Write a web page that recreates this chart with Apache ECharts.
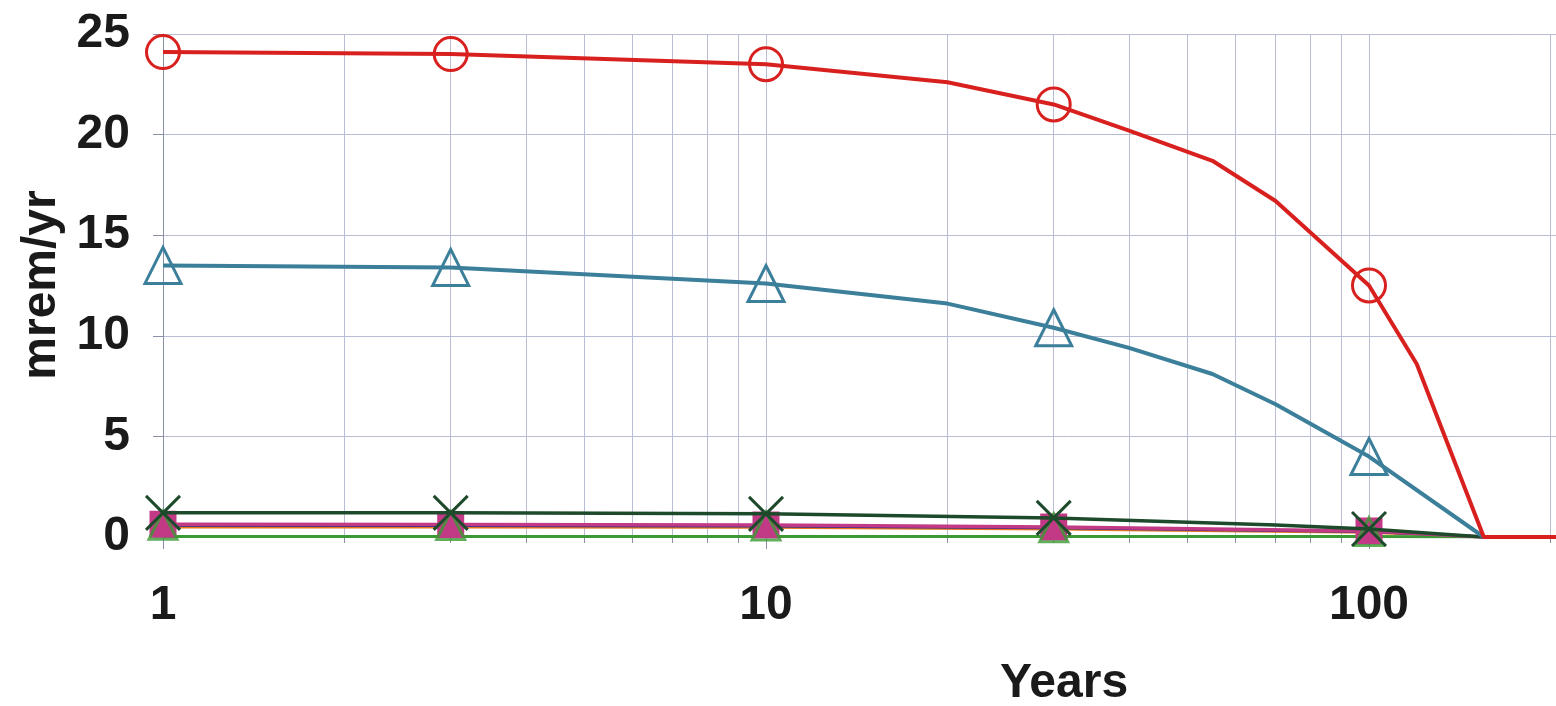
<!DOCTYPE html>
<html>
<head>
<meta charset="utf-8">
<script src="https://cdn.jsdelivr.net/npm/echarts@6/dist/echarts.min.js"></script>
<style>
html,body{margin:0;padding:0;background:#fff;overflow:hidden;}
#chart{width:1980px;height:706px;}
</style>
</head>
<body>
<div id="chart"></div>
<script>
// ---- data (years, mrem/yr) ----
const markerYears = [1, 3, 10, 30, 100];
const redYears   = [1, 3, 10, 20, 30, 40, 55, 70, 100, 120, 155, 1000];
const redValues  = [24.1, 24.0, 23.5, 22.6, 21.5, 20.2, 18.7, 16.7, 12.5, 8.6, 0, 0];
const blueYears  = [1, 3, 10, 20, 30, 40, 55, 70, 100, 155, 1000];
const blueValues = [13.5, 13.4, 12.6, 11.6, 10.4, 9.4, 8.1, 6.6, 4.0, 0, 0];
const dkGreenYears  = [1, 3, 10, 30, 70, 100, 155, 1000];
const dkGreenValues = [1.2, 1.2, 1.15, 0.95, 0.6, 0.4, 0, 0];
const magentaYears  = [1, 3, 10, 30, 100, 155, 1000];
const magentaValues = [0.63, 0.62, 0.6, 0.5, 0.3, 0, 0];
const navyYears  = [1, 3, 10, 30, 100, 155, 1000];
const navyValues = [0.58, 0.57, 0.55, 0.46, 0.27, 0, 0];
const orangeYears  = [1, 3, 10, 30, 100, 155, 1000];
const orangeValues = [0.5, 0.5, 0.48, 0.4, 0.24, 0, 0];
const ltGreenYears  = [1, 3, 10, 30, 100, 155, 1000];
const ltGreenValues = [0.03, 0.03, 0.03, 0.03, 0.02, 0, 0];
const greenTriYears  = [1, 3, 10, 30, 100];
const greenTriValues = [0.58, 0.57, 0.55, 0.46, 0.27];
const yTickLabels = ['0', '5', '10', '15', '20', '25'];
const xTickLabels = ['1', '10', '100', '1000'];
const xAxisTitle = 'Years';
const yAxisTitle = 'mrem/yr';

function pairs(xs, ys) { return xs.map((x, i) => [x, ys[i]]); }
function markSym(shape) {
  return function (value) { return markerYears.indexOf(value[0]) >= 0 ? shape : 'none'; };
}
const X_PATH = 'path://M0,0L10,10M10,0L0,10';

function lineSeries(name, xs, ys, color, shape, size, hollow, lw, z) {
  return {
    name: name, type: 'line', z: z,
    data: pairs(xs, ys),
    symbol: shape ? markSym(shape) : 'none', symbolSize: size,
    showSymbol: !!shape,
    lineStyle: { color: color, width: lw },
    itemStyle: { color: hollow ? 'rgba(0,0,0,0)' : color, borderColor: color, borderWidth: 3 },
    emphasis: { disabled: true },
    animation: false
  };
}

const chart = echarts.init(document.getElementById('chart'), null, { renderer: 'canvas' });
const FONT = '"Liberation Sans", Arial, sans-serif';
const gridColor = '#b9bdd4';
chart.setOption({
  backgroundColor: '#ffffff',
  animation: false,
  grid: { left: 163, top: 34, width: 1809, height: 503, containLabel: false, outerBoundsMode: 'none' },
  xAxis: {
    type: 'log', logBase: 10, min: 1, max: 1000,
    axisLine: { show: true, onZero: false, lineStyle: { color: '#8a90a8', width: 1 } },
    axisTick: { show: true, length: 12, lineStyle: { color: '#8a90a8' } },
    minorTick: { show: true, splitNumber: 9, length: 6, lineStyle: { color: '#8a90a8' } },
    splitLine: { show: true, lineStyle: { color: gridColor, width: 1 } },
    minorSplitLine: { show: true, lineStyle: { color: gridColor, width: 1 } },
    axisLabel: {
      margin: 45, fontSize: 48, fontWeight: 'bold', color: '#1a1a1a', fontFamily: FONT,
      formatter: function (v) { const i = Math.round(Math.log10(v)); return xTickLabels[i] || ''; }
    }
  },
  yAxis: {
    type: 'value', min: 0, max: 25, interval: 5,
    axisLine: { show: true, lineStyle: { color: '#8a90a8', width: 1 } },
    axisTick: { show: true, length: 10, lineStyle: { color: '#8a90a8' } },
    splitLine: { show: true, lineStyle: { color: gridColor, width: 1 } },
    axisLabel: {
      margin: 33, fontSize: 48, fontWeight: 'bold', color: '#1a1a1a', fontFamily: FONT,
      formatter: function (v) { return yTickLabels[Math.round(v / 5)]; }
    }
  },
  graphic: [
    { type: 'text', left: 1000, top: 660,
      style: { text: xAxisTitle, fontSize: 48, fontWeight: 'bold', fill: '#1a1a1a', fontFamily: FONT } },
    { type: 'text', x: 42, y: 285, rotation: Math.PI / 2,
      style: { text: yAxisTitle, fontSize: 48, fontWeight: 'bold', fill: '#1a1a1a', fontFamily: FONT,
               textAlign: 'center', textVerticalAlign: 'middle' } }
  ],
  series: [
    lineSeries('orange', orangeYears, orangeValues, '#e8741e', 'circle', 12, false, 3, 2),
    lineSeries('navy', navyYears, navyValues, '#2b2f8f', 'diamond', 18, false, 3, 3),
    lineSeries('ltgreen', ltGreenYears, ltGreenValues, '#3b9a33', null, 0, true, 3, 4),
    lineSeries('magenta', magentaYears, magentaValues, '#c23a86', 'rect', 24, false, 3.5, 5),
    {
      name: 'greenTri', type: 'scatter', z: 6,
      data: pairs(greenTriYears, greenTriValues),
      symbol: 'triangle', symbolSize: 28,
      itemStyle: { color: 'rgba(0,0,0,0)', borderColor: '#3b9a33', borderWidth: 3 },
      emphasis: { disabled: true }, animation: false
    },
    lineSeries('dkgreen', dkGreenYears, dkGreenValues, '#1e4a2c', X_PATH, 34, true, 3.5, 7),
    lineSeries('blue', blueYears, blueValues, '#3b7f9a', 'triangle', 36, true, 4, 8),
    lineSeries('red', redYears, redValues, '#d8211f', 'circle', 33, true, 4, 9)
  ]
});
</script>
</body>
</html>
